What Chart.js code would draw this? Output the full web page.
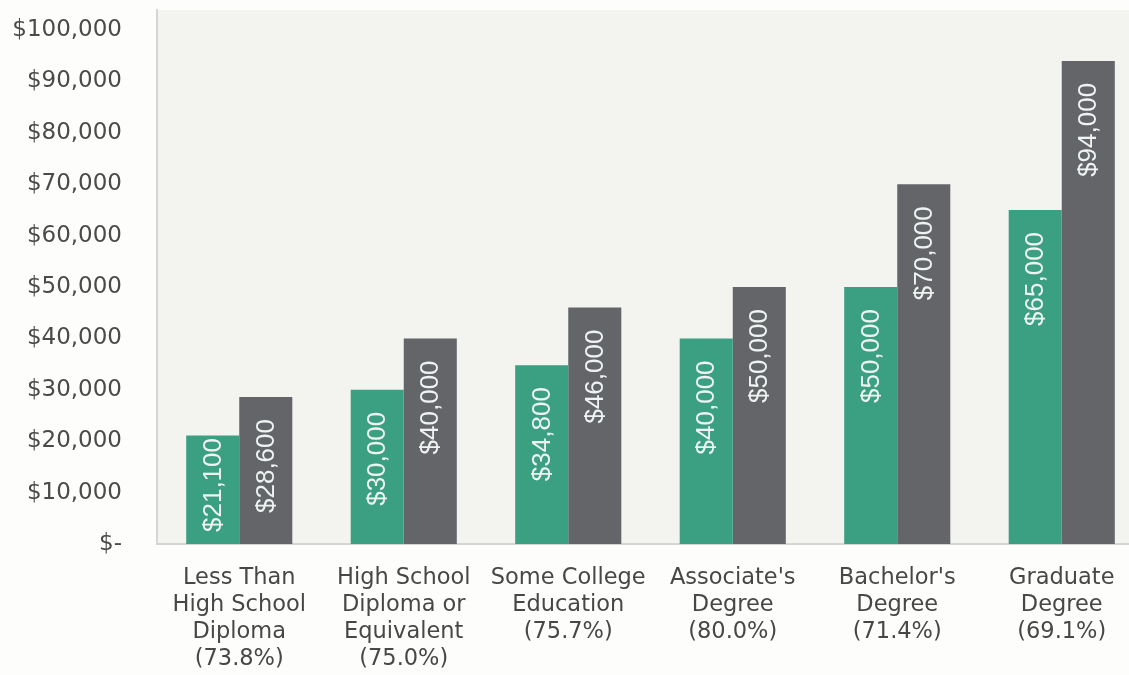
<!DOCTYPE html>
<html>
<head>
<meta charset="utf-8">
<script src="https://cdn.jsdelivr.net/npm/chart.js@4"></script>
<style>
  html, body { margin: 0; padding: 0; background: #fdfdfb; overflow: hidden; }
  #wrap { position: relative; width: 1144px; height: 675px; }
</style>
</head>
<body>
<div id="wrap"><canvas id="c"></canvas></div>
<script>
const categories = [
  ["Less Than", "High School", "Diploma", "(73.8%)"],
  ["High School", "Diploma or", "Equivalent", "(75.0%)"],
  ["Some College", "Education", "(75.7%)"],
  ["Associate's", "Degree", "(80.0%)"],
  ["Bachelor's", "Degree", "(71.4%)"],
  ["Graduate", "Degree", "(69.1%)"]
];
const seriesGreen = [21100, 30000, 34800, 40000, 50000, 65000];
const seriesGray  = [28600, 40000, 46000, 50000, 70000, 94000];
const yTickValues = [0, 10000, 20000, 30000, 40000, 50000, 60000, 70000, 80000, 90000, 100000];

function money(v) {
  return v === 0 ? "$-" : "$" + v.toLocaleString("en-US");
}

const plotBg = {
  id: "plotBg",
  beforeDraw(chart) {
    const { ctx, chartArea: a } = chart;
    ctx.save();
    ctx.fillStyle = "#f3f4f0";
    ctx.fillRect(a.left, a.top, a.right - a.left, a.bottom - a.top);
    ctx.restore();
  },
  afterDatasetsDraw(chart) {
    const { ctx } = chart;
    ctx.save();
    ctx.font = "26px 'Liberation Sans', Arial, sans-serif";
    ctx.fillStyle = "#eef3f1";
    ctx.textBaseline = "middle";
    ctx.textAlign = "left";
    chart.data.datasets.forEach((ds, di) => {
      chart.getDatasetMeta(di).data.forEach((bar, i) => {
        const txt = money(ds.data[i]);
        const w = ctx.measureText(txt).width;
        let topY = bar.y + 22;
        if (topY + w > bar.base - 12) topY = bar.base - 12 - w;
        ctx.save();
        ctx.translate(bar.x + 1, topY + w);
        ctx.rotate(-Math.PI / 2);
        ctx.fillText(txt, 0, 0);
        ctx.restore();
      });
    });
    ctx.restore();
  }
};

new Chart(document.getElementById("c"), {
  type: "bar",
  data: {
    labels: categories,
    datasets: [
      { label: "Green", data: seriesGreen, backgroundColor: "#3b9f81", borderWidth: 0 },
      { label: "Gray", data: seriesGray, backgroundColor: "#636569", borderWidth: 0 }
    ]
  },
  options: {
    responsive: true,
    maintainAspectRatio: false,
    animation: false,
    layout: { padding: { left: 0, right: 0, top: 10, bottom: 0 } },
    plugins: { legend: { display: false }, tooltip: { enabled: false } },
    datasets: { bar: { categoryPercentage: 0.645, barPercentage: 1.0 } },
    scales: {
      x: {
        grid: { display: false, drawTicks: false },
        border: { display: true, color: "#d3d6d2", width: 2 },
        ticks: {
          color: "#474747",
          font: { family: "'DejaVu Sans', sans-serif", size: 22.5, lineHeight: 1.2 },
          padding: 21,
          maxRotation: 0,
          autoSkip: false
        },
        afterFit(scale) {
          scale.height = 131;
          scale.paddingLeft = 0; scale.paddingRight = 0;
        }
      },
      y: {
        min: 0,
        max: 103900,
        grid: { display: false, drawTicks: false },
        border: { display: true, color: "#d3d6d2", width: 2 },
        afterBuildTicks(scale) {
          scale.ticks = yTickValues.map(v => ({ value: v }));
        },
        ticks: {
          color: "#4a4a4a",
          font: { family: "'DejaVu Sans', sans-serif", size: 23 },
          padding: 35,
          callback: (v) => money(v)
        },
        afterFit(scale) {
          scale.width = 157;
          scale.paddingTop = 0; scale.paddingBottom = 0;
        }
      }
    }
  },
  plugins: [plotBg]
});
</script>
</body>
</html>
